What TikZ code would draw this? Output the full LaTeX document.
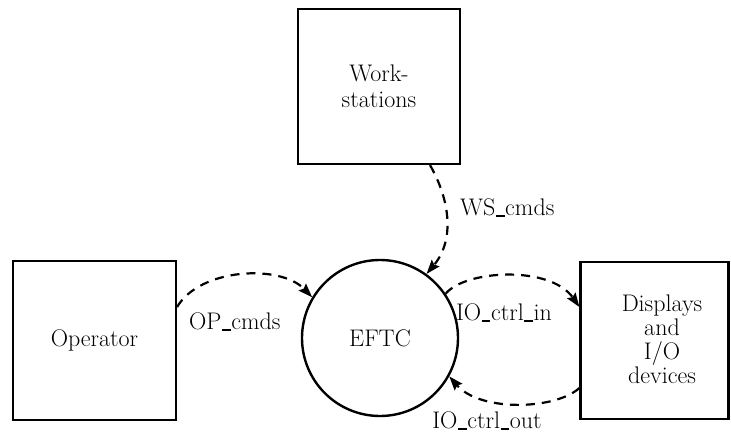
\documentclass[tikz,border=0pt]{standalone}
\usetikzlibrary{arrows.meta}
\newcommand\usc{\kern0.6pt\rule[-0.04em]{0.36em}{0.07em}\kern0.6pt}
\begin{document}
\begin{tikzpicture}[x=1pt,y=-1pt,
  every node/.style={font=\fontsize{24}{25}\selectfont, inner sep=0pt},
  boxnode/.style={draw, line width=2.2pt, rectangle, align=center},
  procnode/.style={draw, line width=2.4pt, circle, minimum size=156pt},
  flow/.style={line width=2.2pt, dash pattern=on 9pt off 7pt,
    -{Stealth[length=14pt,width=10pt,inset=2pt]}}]
\useasboundingbox (0,0) rectangle (731,433);
\node[boxnode, minimum width=162pt, minimum height=155pt,
  font=\fontsize{24}{26}\selectfont] (ws) at (379,86.5) {Work-\\stations};
\node[boxnode, minimum width=163pt, minimum height=159pt] (op) at (94.5,340.5) {Operator};
\node[boxnode, minimum width=148pt, minimum height=157pt] (disp) at (654.5,340.5) {};
\node[align=center, font=\fontsize{24}{24}\selectfont] (disptext) at (662,339) {Displays\\and\\I/O\\devices};
\node[procnode] (eftc) at (380,338) {EFTC};

\draw[flow] ([xshift=51pt]ws.south) .. controls (450,200) and (455,240) .. (eftc.54);
\draw[flow] ([yshift=33.5pt]op.east) .. controls (200,268) and (280,264) .. (eftc.149);
\draw[flow] (eftc.34) .. controls (465,270) and (550,265) .. ([yshift=33.5pt]disp.west);
\draw[flow] ([yshift=-47.5pt]disp.west) .. controls (555,410) and (480,412) .. (eftc.331);

\node[anchor=west] (opl) at (189,322) {OP\usc cmds};
\node[anchor=west] (wsl) at (460,208) {WS\usc cmds};
\node (inl) at (504,313) {IO\usc ctrl\usc in};
\node (outl) at (487,421) {IO\usc ctrl\usc out};
\end{tikzpicture}
\end{document}
